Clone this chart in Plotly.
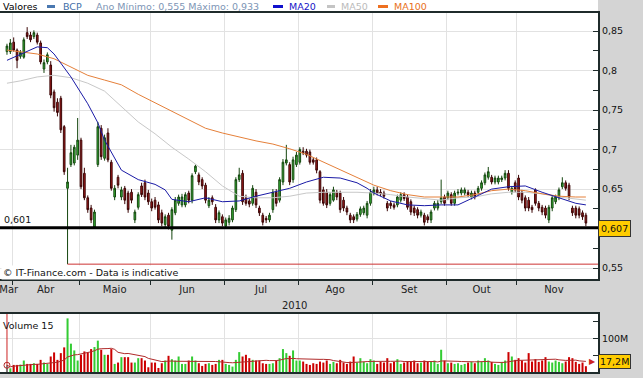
import plotly.graph_objects as go
import pandas as pd

# ---------------- data ----------------
first_idx = 1  # trading-day index of first candle (Mar 30 2010)

opens = [.824,.824,.836,.826,.818,.817,.848,.845,.843,.845,
         .835,.802,.811,.807,.773,.760,.765,.729,.651,.681,
         .683,.693,.712,.670,.639,.626,.602,.681,.727,.689,
         .721,.684,.640,.665,.640,.651,.645,.646,.611,.627,
         .654,.658,.645,.634,.636,.630,.620,.605,.617,.598,
         .620,.632,.630,.630,.645,.636,.672,.668,.662,.655,
         .629,.639,.627,.611,.615,.603,.608,.611,.624,.662,
         .670,.639,.635,.632,.646,.626,.617,.613,.611,.624,
         .646,.636,.659,.683,.681,.662,.681,.684,.698,.698,
         .697,.687,.687,.672,.649,.646,.632,.636,.646,.645,
         .636,.626,.617,.615,.612,.618,.620,.617,.632,.645,
         .649,.646,.645,.632,.632,.630,.630,.636,.643,.640,
         .634,.626,.624,.617,.617,.615,.611,.626,.626,.634,
         .640,.639,.643,.632,.645,.645,.645,.646,.640,.645,
         .646,.651,.658,.665,.665,.659,.659,.662,.664,.670,
         .646,.658,.664,.646,.639,.636,.627,.649,.632,.627,
         .626,.611,.626,.634,.639,.653,.658,.655,.626,.626,
         .625,.620,.617]
highs = [.834,.840,.842,.828,.826,.842,.855,.849,.851,.848,
         .838,.814,.823,.812,.776,.765,.768,.731,.677,.706,
         .706,.740,.715,.677,.642,.630,.624,.735,.731,.719,
         .727,.687,.655,.668,.653,.654,.648,.650,.624,.646,
         .658,.662,.649,.638,.640,.634,.624,.618,.620,.627,
         .640,.643,.644,.646,.648,.670,.681,.671,.665,.658,
         .640,.642,.631,.623,.618,.614,.617,.629,.665,.677,
         .674,.643,.638,.655,.650,.629,.620,.616,.620,.650,
         .650,.665,.688,.706,.684,.691,.697,.703,.703,.701,
         .700,.690,.690,.674,.653,.650,.646,.653,.649,.648,
         .640,.629,.620,.618,.621,.628,.629,.635,.650,.653,
         .653,.650,.648,.635,.635,.633,.643,.646,.646,.643,
         .637,.629,.627,.624,.620,.618,.624,.635,.636,.662,
         .643,.648,.646,.648,.650,.652,.652,.649,.648,.648,
         .654,.661,.671,.678,.668,.667,.667,.667,.674,.674,
         .654,.661,.668,.649,.642,.640,.630,.651,.635,.630,
         .629,.630,.642,.643,.652,.665,.661,.658,.629,.629,
         .628,.623,.620]
lows = [.820,.821,.824,.803,.815,.815,.840,.836,.840,.833,
        .808,.797,.808,.765,.748,.742,.721,.668,.555,.678,
        .680,.687,.650,.636,.620,.607,.600,.678,.687,.686,
        .684,.648,.636,.651,.636,.631,.620,.632,.607,.624,
        .640,.636,.630,.622,.624,.607,.603,.601,.599,.586,
        .617,.629,.627,.627,.632,.632,.669,.655,.650,.632,
        .626,.630,.607,.607,.603,.600,.604,.608,.621,.659,
        .630,.629,.627,.629,.626,.616,.604,.607,.608,.620,
        .628,.633,.655,.680,.655,.658,.678,.681,.693,.690,
        .681,.681,.670,.632,.629,.626,.629,.634,.636,.620,
        .622,.617,.607,.607,.609,.615,.617,.613,.629,.642,
        .642,.641,.638,.622,.625,.624,.627,.633,.635,.624,
        .617,.616,.613,.614,.604,.607,.607,.623,.623,.631,
        .629,.636,.629,.629,.642,.642,.642,.640,.637,.637,
        .643,.648,.655,.662,.656,.656,.656,.659,.661,.648,
        .643,.646,.636,.632,.622,.622,.620,.629,.622,.617,
        .613,.607,.622,.631,.636,.650,.648,.636,.616,.613,
        .613,.611,.603]
closes = [.831,.835,.826,.813,.823,.839,.843,.839,.848,.836,
          .811,.810,.820,.769,.753,.747,.725,.672,.659,.696,
          .703,.712,.653,.639,.624,.611,.621,.729,.691,.715,
          .687,.651,.651,.655,.649,.636,.624,.636,.621,.643,
          .643,.640,.634,.626,.627,.611,.607,.615,.603,.624,
          .636,.640,.640,.643,.636,.667,.679,.659,.654,.636,
          .636,.634,.611,.620,.607,.611,.613,.626,.662,.668,
          .634,.632,.631,.651,.630,.620,.608,.611,.617,.646,
          .632,.662,.684,.687,.659,.687,.693,.700,.696,.693,
          .684,.684,.674,.636,.632,.630,.643,.649,.640,.624,
          .626,.621,.611,.611,.618,.625,.626,.632,.646,.649,
          .645,.644,.641,.626,.629,.627,.640,.643,.638,.627,
          .621,.620,.617,.621,.608,.611,.621,.632,.632,.639,
          .632,.645,.632,.645,.646,.649,.649,.643,.645,.640,
          .651,.658,.668,.672,.659,.664,.664,.664,.670,.651,
          .651,.649,.640,.636,.626,.626,.624,.632,.626,.621,
          .617,.627,.639,.640,.649,.658,.651,.640,.620,.617,
          .617,.615,.607]
volumes_m = [20,11,21,21,22,34,24,24,26,24,
             36,28,24,46,58,36,56,73,159,84,
             64,34,51,61,58,68,74,93,66,51,
             51,68,24,28,44,44,44,28,28,41,
             41,34,14,28,28,12,26,34,48,38,
             34,46,24,24,34,46,34,26,18,24,
             26,21,24,36,36,24,21,16,36,59,
             46,51,41,36,34,34,26,24,24,26,
             34,41,68,56,48,64,34,34,31,24,
             21,26,24,31,28,34,24,30,26,36,
             28,24,31,46,28,41,30,26,38,34,
             24,30,28,41,26,30,38,24,28,31,
             30,34,26,28,34,30,31,34,24,66,
             34,26,28,24,26,21,24,28,30,26,
             34,30,41,34,30,24,21,30,34,59,
             46,36,41,34,28,56,31,38,30,34,
             44,31,28,34,30,26,31,44,41,30,
             24,28,17.2]

ma20_idx = [1,5,10,13,15,20,25,28,30,35,40,45,48,50,55,60,65,70,75,80,85,90,95,100,
            105,108,110,115,120,125,130,135,140,145,150,155,160,165,170,173]
ma20 = [.813,.821,.830,.829,.821,.792,.758,.734,.712,.674,.662,.656,.649,.637,.634,.639,.634,.635,
        .641,.646,.651,.659,.665,.664,.658,.651,.645,.635,.630,.629,.630,.630,.640,.650,.653,.654,
        .646,.639,.632,.630]
ma_idx = [1,5,10,15,20,25,30,35,40,45,50,55,60,65,70,75,80,85,90,95,100,105,110,115,120,
          125,130,135,140,145,150,155,160,165,170,173]
ma50 = [.784,.787,.792,.794,.791,.784,.774,.755,.735,.720,.703,.688,.672,.654,.641,.639,.639,.641,
        .645,.646,.646,.646,.645,.643,.640,.638,.636,.639,.640,.644,.646,.646,.644,.640,.638,.636]
ma100 = [.826,.824,.821,.815,.805,.794,.788,.782,.770,.759,.748,.737,.727,.721,.716,.711,.707,.701,
         .694,.684,.674,.665,.655,.648,.643,.640,.640,.640,.643,.648,.650,.648,.644,.641,.640,.640]

month_labels = ["Mar", "Abr", "Maio", "Jun", "Jul", "Ago", "Set", "Out", "Nov"]
month_first_idx = [-20, 3, 23, 44, 66, 88, 110, 132, 153, 175]
year_label = "2010"
price_ticks = [0.55, 0.60, 0.65, 0.70, 0.75, 0.80, 0.85]
price_ticktext = ["0,55", "", "0,65", "0,7", "0,75", "0,8", "0,85"]
vol_ticks = [100]
vol_ticktext = ["100M"]
support_level = 0.601
year_low = 0.555
year_high = 0.933
last_price_text = "0,607"
last_volume_text = "17,2M"

# ---------------- derived ----------------
n = len(closes)
idx = list(range(first_idx, first_idx + n))
inc = [c >= o for o, c in zip(opens, closes)]
vol_colors = ['#33cc33' if u else '#cc0000' for u in inc]
vol_colors[0] = '#33cccc'
vol_ma = pd.Series(volumes_m).rolling(15, min_periods=1).mean().tolist()
low_i = idx[min(range(n), key=lambda k: lows[k])]
last_close = closes[-1]

X_RANGE = [-1.07, 176.6]
boundaries = [s - 0.5 for s in month_first_idx[1:-1]]
label_pos = []
for a, b in zip(month_first_idx[:-1], month_first_idx[1:]):
    label_pos.append(max((a + b) / 2 - 0.5, X_RANGE[0] + 2.6))

W, H = 643, 378
MT, MB, MR = 13, 6, 45
PH = H - MT - MB
PW = W - MR

def py(px):   # pixel row -> paper y
    return (H - MB - px) / PH

def pxx(px):  # pixel col -> paper x
    return px / PW

FONT = "DejaVu Sans"
GRID = '#e2e2e2'
AXC = '#1f2b2b'

fig = go.Figure()
fig.add_trace(go.Candlestick(
    x=idx, open=opens, high=highs, low=lows, close=closes,
    increasing=dict(line=dict(color='#15460f', width=1), fillcolor='#36b836'),
    decreasing=dict(line=dict(color='#3a0606', width=1), fillcolor='#a41b1b'),
    whiskerwidth=0, xaxis='x', yaxis='y', hoverinfo='skip'))
fig.add_trace(go.Scatter(x=ma_idx, y=ma50, mode='lines', line=dict(color='#c8c8c8', width=1),
                         xaxis='x', yaxis='y'))
fig.add_trace(go.Scatter(x=ma_idx, y=ma100, mode='lines', line=dict(color='#e5803a', width=1),
                         xaxis='x', yaxis='y'))
fig.add_trace(go.Scatter(x=ma20_idx, y=ma20, mode='lines', line=dict(color='#1a1aa6', width=1),
                         xaxis='x', yaxis='y'))

fig.add_trace(go.Bar(x=idx, y=volumes_m, marker=dict(color=vol_colors, line=dict(width=0)),
                     width=0.6, xaxis='x2', yaxis='y2'))
fig.add_trace(go.Scatter(x=idx, y=vol_ma, mode='lines', line=dict(color='#b02a2a', width=1),
                         xaxis='x2', yaxis='y2'))
fig.add_trace(go.Scatter(x=[idx[0]], y=[vol_ma[0]], mode='markers',
                         marker=dict(symbol='circle-open', size=6, color='#b02a2a', line=dict(width=1)),
                         xaxis='x2', yaxis='y2'))

main_dom = [py(279), 1]
vol_dom = [0, py(314)]

fig.update_layout(
    width=W, height=H,
    margin=dict(l=0, r=MR, t=MT, b=MB, pad=0, autoexpand=False),
    paper_bgcolor='#d4d4d4', plot_bgcolor='white',
    showlegend=False, separators=',.', hovermode=False,
    font=dict(family=FONT, size=10, color='#222'),
    bargap=0.3,
    xaxis=dict(domain=[0, 1], anchor='y', range=X_RANGE, tickmode='array',
               tickvals=label_pos, ticktext=month_labels, ticks='', showgrid=False,
               tickfont=dict(size=10, color='#222'), automargin=False, ticklabeloverflow='allow',
               minor=dict(tickmode='array', tickvals=boundaries, ticks='outside', ticklen=4,
                          tickcolor=AXC, showgrid=True, gridcolor=GRID, gridwidth=1),
               showline=True, mirror=True, linecolor=AXC, linewidth=2,
               rangeslider=dict(visible=False), zeroline=False),
    yaxis=dict(domain=main_dom, anchor='x', side='right', range=[0.5362, 0.8729],
               tickmode='array', tickvals=price_ticks, ticktext=price_ticktext,
               ticks='inside', ticklen=5, tickcolor=AXC, tickfont=dict(size=9.5, color='#111'),
               showgrid=True, gridcolor=GRID, automargin=False,
               minor=dict(tickmode='array', tickvals=[0.575, 0.625, 0.675, 0.725, 0.775, 0.825],
                          ticks='inside', ticklen=5, tickcolor=AXC, showgrid=False),
               showline=True, linecolor=AXC, linewidth=2, zeroline=False),
    xaxis2=dict(domain=[0, 1], anchor='y2', matches='x', range=X_RANGE, showticklabels=False,
                ticks='', showgrid=False, automargin=False,
                minor=dict(tickmode='array', tickvals=boundaries, ticks='', showgrid=True,
                           gridcolor=GRID, gridwidth=1),
                showline=True, mirror=True, linecolor=AXC, linewidth=2, zeroline=False),
    yaxis2=dict(domain=vol_dom, anchor='x2', side='right', range=[0, 172],
                tickmode='array', tickvals=vol_ticks, ticktext=vol_ticktext,
                ticks='inside', ticklen=5, tickcolor=AXC, tickfont=dict(size=9.5, color='#111'),
                showgrid=True, gridcolor=GRID, automargin=False,
                minor=dict(tickmode='array', tickvals=[50, 150], ticks='inside', ticklen=5,
                           tickcolor=AXC, showgrid=False),
                showline=True, linecolor=AXC, linewidth=2, zeroline=False),
)

shapes = [
    dict(type='rect', xref='paper', yref='paper', x0=0, x1=1, y0=1, y1=py(0),
         fillcolor='white', line=dict(width=0), layer='below'),
    dict(type='line', xref='paper', yref='y', x0=0, x1=1, y0=support_level, y1=support_level,
         line=dict(color='black', width=3)),
    dict(type='line', xref='x', yref='y', x0=low_i, x1=X_RANGE[1], y0=year_low, y1=year_low,
         line=dict(color='#cc3333', width=1)),
    dict(type='line', xref='x2', yref='y2', x0=idx[0], x1=idx[0], y0=0, y1=172,
         line=dict(color='#cc2222', width=1)),
]
# legend dashes
for x0, x1, col in [(47, 55, '#4a78b0'), (273, 283, '#1010cc'), (327, 335, '#c4c4c4'), (378, 388, '#ee7020')]:
    shapes.append(dict(type='rect', xref='paper', yref='paper', x0=pxx(x0), x1=pxx(x1),
                       y0=py(8), y1=py(5), fillcolor=col, line=dict(width=0)))
fig.update_layout(shapes=shapes)

LY = py(6.5)
annotations = []
def txt(text, xpx, ypaper, color, size=9.5, **kw):
    d = dict(text=text, xref='paper', yref='paper', x=pxx(xpx), y=ypaper, xanchor='left',
             yanchor='middle', showarrow=False, font=dict(family=FONT, size=size, color=color))
    d.update(kw)
    annotations.append(d)

txt("Valores", 1, LY, '#000')
txt("BCP", 61, LY, '#3f6fa8')
txt("Ano Mínimo: %s Máximo: %s" % (f"{year_low:.3f}".replace('.', ','), f"{year_high:.3f}".replace('.', ',')),
    94, LY, '#7d95b5')
txt("MA20", 287, LY, '#1515c8')
txt("MA50", 339, LY, '#bbbbbb')
txt("MA100", 392, LY, '#e87020')
txt("Volume 15", 1, py(325), '#111')
txt("© IT-Finance.com - Data is indicative", 1, py(272), '#111', bgcolor='white')

annotations.append(dict(text=f"{support_level:.3f}".replace('.', ','), xref='paper', yref='y', x=pxx(2),
                        y=support_level, xanchor='left', yanchor='bottom', yshift=1, showarrow=False,
                        font=dict(family=FONT, size=9.5, color='#111')))
annotations.append(dict(text=last_price_text, xref='paper', yref='y', x=1, y=last_close,
                        xanchor='left', yanchor='middle', yshift=-5, showarrow=False,
                        bgcolor='#ffcc00', bordercolor='#333', borderwidth=1, borderpad=2,
                        font=dict(family=FONT, size=9.5, color='#111')))
annotations.append(dict(text=last_volume_text, xref='paper', yref='y2', x=1, y=vol_ma[-1],
                        xanchor='left', yanchor='middle', showarrow=False,
                        bgcolor='#ffcc00', bordercolor='#333', borderwidth=1, borderpad=1,
                        font=dict(family=FONT, size=9.5, color='#111')))
annotations.append(dict(text="▶", xref='paper', yref='y2', x=1, y=vol_ma[-1], xanchor='right',
                        yanchor='middle', showarrow=False, font=dict(size=8, color='#cc2222')))
annotations.append(dict(text=year_label, xref='x', yref='paper', x=boundaries[4], y=py(305),
                        xanchor='center', yanchor='middle', xshift=-4, showarrow=False,
                        font=dict(family=FONT, size=10, color='#222')))
fig.update_layout(annotations=annotations)

fig.write_html("out.html", config=dict(displayModeBar=False, staticPlot=True),
               post_script="document.body.style.margin='0';document.body.style.overflow='hidden';")
